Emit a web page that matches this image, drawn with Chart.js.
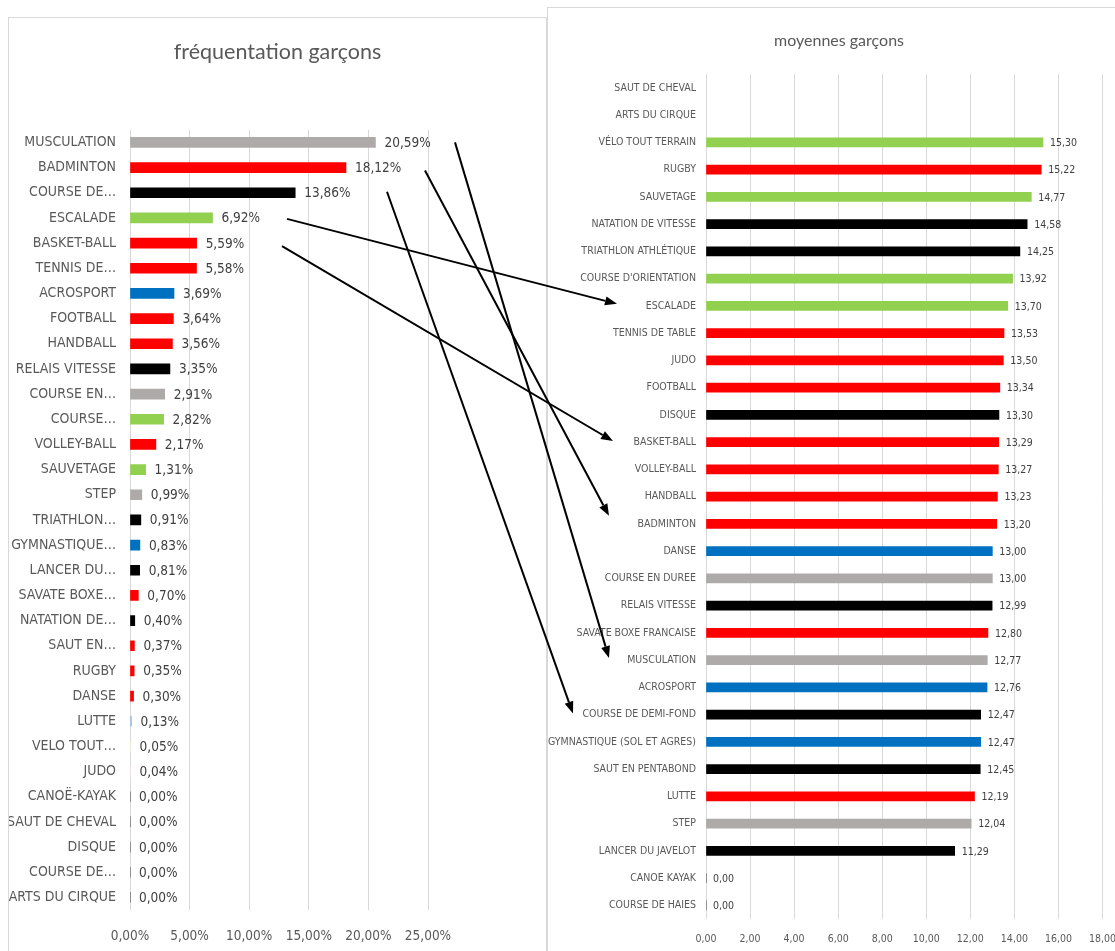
<!DOCTYPE html>
<html>
<head>
<meta charset="utf-8">
<script src="https://cdn.jsdelivr.net/npm/chart.js@4.4.1/dist/chart.umd.min.js"></script>
<style>
html, body { margin:0; padding:0; background:#fff; overflow:hidden; width:1115px; height:951px; }
.panel { position:absolute; background:#fff; border:1px solid #D9D9D9; box-sizing:border-box; }
#leftPanel { left:8px; top:17px; width:539px; height:960px; }
#rightPanel { left:547px; top:7px; width:620px; height:970px; }
.panel canvas { position:absolute; left:0; top:0; }
#arrows { position:absolute; left:0; top:0; pointer-events:none; }
</style>
</head>
<body>
<div class="panel" id="leftPanel"><canvas id="freqChart" width="537" height="933"></canvas></div>
<div class="panel" id="rightPanel"><canvas id="moyChart" width="582" height="943"></canvas></div>
<canvas id="arrows" width="1115" height="951"></canvas>
<script>
// fréquentation garçons (%)
const freqLabels = ["MUSCULATION","BADMINTON","COURSE DE…","ESCALADE","BASKET-BALL","TENNIS DE…","ACROSPORT","FOOTBALL","HANDBALL","RELAIS VITESSE","COURSE EN…","COURSE…","VOLLEY-BALL","SAUVETAGE","STEP","TRIATHLON…","GYMNASTIQUE…","LANCER DU…","SAVATE BOXE…","NATATION DE…","SAUT EN…","RUGBY","DANSE","LUTTE","VELO TOUT…","JUDO","CANOË-KAYAK","SAUT DE CHEVAL","DISQUE","COURSE DE…","ARTS DU CIRQUE"];
const freqValues = [20.59,18.12,13.86,6.92,5.59,5.58,3.69,3.64,3.56,3.35,2.91,2.82,2.17,1.31,0.99,0.91,0.83,0.81,0.70,0.40,0.37,0.35,0.30,0.13,0.05,0.04,0,0,0,0,0];
const freqTicks = [0,5,10,15,20,25];

// moyennes garçons
const moyLabels = ["SAUT DE CHEVAL","ARTS DU CIRQUE","VÉLO TOUT TERRAIN","RUGBY","SAUVETAGE","NATATION DE VITESSE","TRIATHLON ATHLÉTIQUE","COURSE D'ORIENTATION","ESCALADE","TENNIS DE TABLE","JUDO","FOOTBALL","DISQUE","BASKET-BALL","VOLLEY-BALL","HANDBALL","BADMINTON","DANSE","COURSE EN DUREE","RELAIS VITESSE","SAVATE BOXE FRANCAISE","MUSCULATION","ACROSPORT","COURSE DE DEMI-FOND","GYMNASTIQUE (SOL ET AGRES)","SAUT EN PENTABOND","LUTTE","STEP","LANCER DU JAVELOT","CANOE KAYAK","COURSE DE HAIES"];
const moyValues = [null,null,15.30,15.22,14.77,14.58,14.25,13.92,13.70,13.53,13.50,13.34,13.30,13.29,13.27,13.23,13.20,13.00,13.00,12.99,12.80,12.77,12.76,12.47,12.47,12.45,12.19,12.04,11.29,0,0];
const moyTicks = [0,2,4,6,8,10,12,14,16,18];

// colour groups
const GRIS = "#AEAAAA", ROUGE = "#FF0000", NOIR = "#000000", VERT = "#92D050", BLEU = "#0070C0", BLEU_CLAIR = "#9DC3E6";
const freqColors = [GRIS,ROUGE,NOIR,VERT,ROUGE,ROUGE,BLEU,ROUGE,ROUGE,NOIR,GRIS,VERT,ROUGE,VERT,GRIS,NOIR,BLEU,NOIR,ROUGE,NOIR,ROUGE,ROUGE,ROUGE,BLEU_CLAIR,"#E9F5DB","#FFE5E5",NOIR,NOIR,NOIR,NOIR,NOIR];
const moyColors = [NOIR,NOIR,VERT,ROUGE,VERT,NOIR,NOIR,VERT,VERT,ROUGE,ROUGE,ROUGE,NOIR,ROUGE,ROUGE,ROUGE,ROUGE,BLEU,GRIS,NOIR,ROUGE,GRIS,BLEU,NOIR,BLEU,NOIR,ROUGE,GRIS,NOIR,NOIR,NOIR];

// arrows: index in left chart -> label in right chart
const arrowLinks = [
  { from:0, to:"MUSCULATION",         x1:455, dy1:0,  x2:609, dy2:-2 },
  { from:1, to:"BADMINTON",           x1:425, dy1:3,  x2:609, dy2:-8 },
  { from:2, to:"COURSE DE DEMI-FOND", x1:387, dy1:-1, x2:573, dy2:-1 },
  { from:3, to:"ESCALADE",            x1:287, dy1:1,  x2:617, dy2:-2 },
  { from:4, to:"BASKET-BALL",         x1:282, dy1:3,  x2:613, dy2:-1 }
];

const NARROW = '"Liberation Sans Narrow", "DejaVu Sans Condensed", sans-serif';
const comma = (v, d) => v.toFixed(d).replace(".", ",");

// data labels at end of bars
const barLabels = {
  id: "barLabels",
  afterDatasetsDraw(chart, args, opts) {
    const ctx = chart.ctx;
    const data = chart.data.datasets[0].data;
    ctx.save();
    ctx.font = opts.font;
    ctx.fillStyle = opts.color;
    ctx.textBaseline = "middle";
    ctx.textAlign = "left";
    chart.getDatasetMeta(0).data.forEach((bar, i) => {
      if (data[i] == null) return;
      ctx.fillText(opts.format(data[i]), bar.x + opts.offset, bar.y + 1);
    });
    ctx.restore();
  }
};

function makeChart(id, labels, values, colors, ticks, o) {
  return new Chart(document.getElementById(id), {
    type: "bar",
    data: { labels: labels, datasets: [{ data: values, backgroundColor: colors, barThickness: o.bar }] },
    options: {
      indexAxis: "y",
      responsive: false,
      animation: false,
      devicePixelRatio: 1,
      layout: { padding: 0 },
      plugins: {
        legend: { display: false },
        tooltip: { enabled: false },
        title: { display: true, text: o.title, color: "#595959",
                 font: { family: "Lato", size: o.titleSize, weight: "normal" },
                 padding: { top: o.titleTop, bottom: o.titleBottom } },
        barLabels: { font: o.dataFont, color: "#404040", offset: o.labelOffset, format: o.format }
      },
      scales: {
        x: {
          min: ticks[0], max: ticks[ticks.length - 1],
          afterBuildTicks: s => { s.ticks = ticks.map(v => ({ value: v })); },
          afterFit: s => { s.height = o.xHeight; },
          grid: { color: "#D9D9D9", drawTicks: false },
          border: { display: false },
          ticks: { color: "#595959", padding: o.xPad, font: { family: NARROW, size: o.xSize }, callback: o.tickFormat }
        },
        y: {
          afterFit: s => { s.width = o.yWidth; },
          grid: { display: false, drawTicks: false },
          border: { display: false },
          ticks: { autoSkip: false, color: "#595959", padding: o.yPad, font: { family: NARROW, size: o.ySize } }
        },
        // empty band on the right, leaves room for the data labels
        yRight: {
          type: "category", position: "right",
          afterFit: s => { s.width = o.padRight; },
          grid: { display: false, drawTicks: false },
          border: { display: false },
          ticks: { display: false }
        }
      }
    },
    plugins: [barLabels]
  });
}

const freqChart = makeChart("freqChart", freqLabels, freqValues, freqColors, freqTicks, {
  title: "fréquentation garçons", titleSize: 21.5, titleTop: 21, titleBottom: 65,
  padRight: 118, yWidth: 121, yPad: 14, ySize: 14, xHeight: 41, xPad: 18, xSize: 13.5, bar: 10,
  dataFont: "13.5px " + NARROW, labelOffset: 9,
  format: v => comma(v, 2) + "%", tickFormat: v => comma(v, 2) + "%"
});

const moyChart = makeChart("moyChart", moyLabels, moyValues, moyColors, moyTicks, {
  title: "moyennes garçons", titleSize: 16, titleTop: 23, titleBottom: 24,
  padRight: 26, yWidth: 158, yPad: 10, ySize: 10.5, xHeight: 32, xPad: 14, xSize: 10.5, bar: 9,
  dataFont: "10.5px " + NARROW, labelOffset: 7,
  format: v => comma(v, 2), tickFormat: v => comma(v, 2)
});

// arrows drawn over both panels
function drawArrows() {
  const c = document.getElementById("arrows").getContext("2d");
  const lr = freqChart.canvas.getBoundingClientRect();
  const rr = moyChart.canvas.getBoundingClientRect();
  c.strokeStyle = "#000"; c.fillStyle = "#000"; c.lineWidth = 2;
  arrowLinks.forEach(a => {
    const y1 = lr.top + freqChart.scales.y.getPixelForValue(a.from) + a.dy1;
    const y2 = rr.top + moyChart.scales.y.getPixelForValue(moyLabels.indexOf(a.to)) + a.dy2;
    const ang = Math.atan2(y2 - y1, a.x2 - a.x1);
    const hl = 12, hw = 4.5;
    const bx = a.x2 - hl * Math.cos(ang), by = y2 - hl * Math.sin(ang);
    c.beginPath(); c.moveTo(a.x1, y1); c.lineTo(bx, by); c.stroke();
    c.beginPath();
    c.moveTo(a.x2, y2);
    c.lineTo(bx + hw * Math.sin(ang), by - hw * Math.cos(ang));
    c.lineTo(bx - hw * Math.sin(ang), by + hw * Math.cos(ang));
    c.closePath(); c.fill();
  });
}
drawArrows();
</script>
</body>
</html>
